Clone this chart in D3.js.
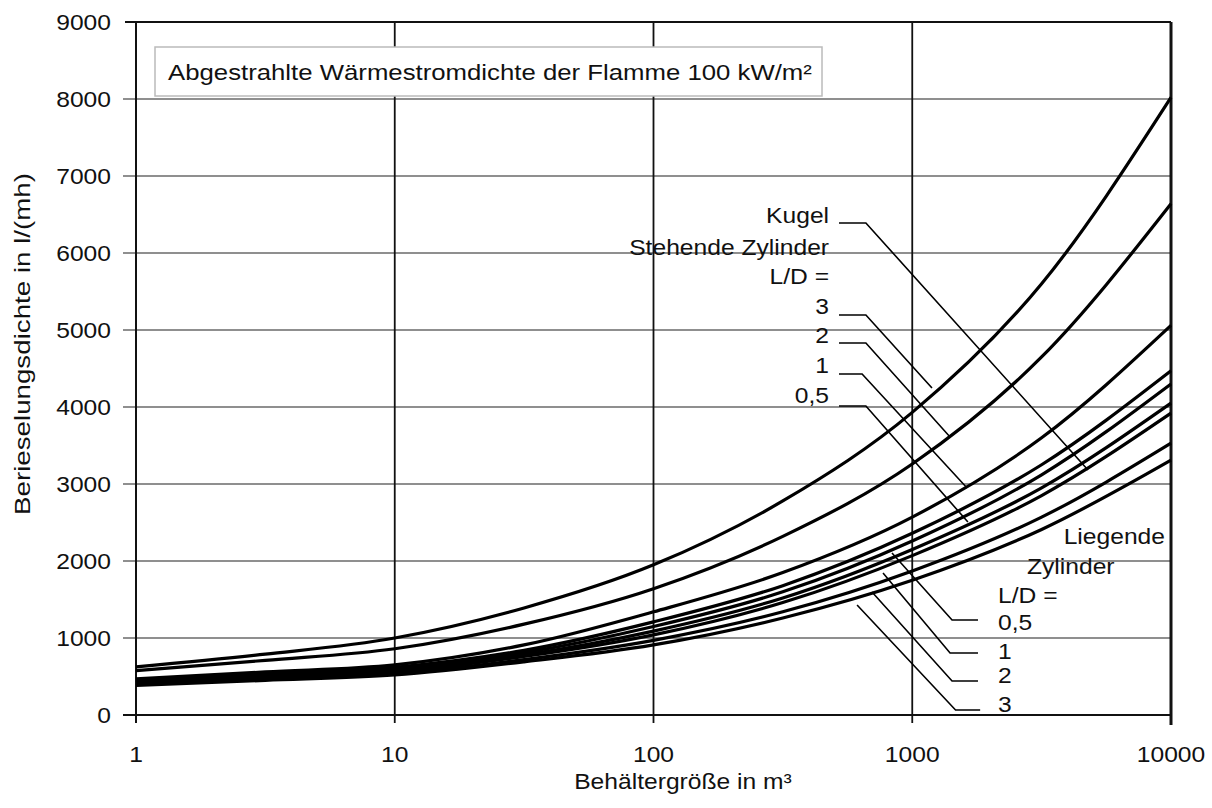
<!DOCTYPE html>
<html>
<head>
<meta charset="utf-8">
<script src="https://cdn.jsdelivr.net/npm/d3@7"></script>
<style>
  body { margin: 0; background: white; }
  svg text { font-family: "Liberation Sans", Arial, sans-serif; fill: #111; }
</style>
</head>
<body>
<svg id="chart" width="1212" height="808"></svg>
<script>
const width = 1212,
      height = 808;

const margin = {top: 22, right: 41, bottom: 93, left: 136};

const text_size = 22;
const text_stretch = 1.12;

// Behältergröße in m³ where the curves were read
const volumes = [1, 3.16, 10, 31.6, 100, 316, 1000, 3162, 10000];

// Berieselungsdichte in l/(mh), curves from top to bottom at 10000 m³
const curve_a = [625, 790, 1000, 1390, 1950, 2780, 3930, 5600, 8020];
const curve_b = [575, 710, 860, 1180, 1640, 2320, 3260, 4650, 6640];
const curve_c = [470, 560, 650, 910, 1340, 1850, 2570, 3600, 5060];
const curve_d = [455, 540, 620, 840, 1210, 1680, 2360, 3250, 4470];
const curve_e = [445, 520, 600, 810, 1150, 1600, 2260, 3120, 4300];
const curve_f = [430, 505, 580, 780, 1090, 1520, 2150, 2950, 4050];
const curve_g = [420, 495, 565, 760, 1040, 1460, 2070, 2850, 3920];
const curve_h = [400, 470, 540, 720, 970, 1340, 1870, 2570, 3530];
const curve_i = [385, 450, 520, 690, 910, 1260, 1750, 2410, 3310];

const curves = [curve_a, curve_b, curve_c, curve_d, curve_e, curve_f, curve_g, curve_h, curve_i];

const x_ticks = [1, 10, 100, 1000, 10000];
const y_ticks = [0, 1000, 2000, 3000, 4000, 5000, 6000, 7000, 8000, 9000];

const title_text = 'Abgestrahlte Wärmestromdichte der Flamme 100 kW/m²';
const x_title = 'Behältergröße in m³';
const y_title = 'Berieselungsdichte in l/(mh)';

// labels: text, anchor volume, anchor density, text-anchor
const upper_labels = [
  ['Kugel', 477, 6390, 'end'],
  ['Stehende Zylinder', 477, 5970, 'end'],
  ['L/D =', 477, 5600, 'end'],
  ['3', 477, 5210, 'end'],
  ['2', 477, 4830, 'end'],
  ['1', 477, 4440, 'end'],
  ['0,5', 477, 4050, 'end']
];
const lower_labels = [
  ['Liegende', 9480, 2220, 'end'],
  ['Zylinder', 2775, 1830, 'start'],
  ['L/D =', 2145, 1450, 'start'],
  ['0,5', 2145, 1100, 'start'],
  ['1', 2145, 730, 'start'],
  ['2', 2145, 420, 'start'],
  ['3', 2145, 40, 'start']
];

// leader lines as [volume, density] points
const leader_lines = [
  [[521, 6390], [662, 6390], [4777, 3182]],
  [[521, 5195], [662, 5195], [1192, 4247]],
  [[521, 4831], [662, 4831], [1400, 3610]],
  [[521, 4429], [640, 4429], [1629, 2948]],
  [[521, 4013], [662, 4013], [1641, 2506]],
  [[835, 2104], [1425, 1234], [1795, 1234]],
  [[771, 1844], [1400, 805], [1795, 805]],
  [[699, 1597], [1425, 442], [1795, 442]],
  [[612, 1429], [1470, 65], [1830, 65]]
];

const svg = d3.select('#chart');

const x = d3.scaleLog()
  .domain([1, 10000])
  .range([margin.left, width - margin.right]);

const y = d3.scaleLinear()
  .domain([0, 9000])
  .range([height - margin.bottom, margin.top]);

// stretched text, the source font runs a bit wider than Arial
function addText(g, str, px, py, anchor, size = text_size){
  return g.append('text')
    .attr('transform', `translate(${px},${py}) scale(${text_stretch},1)`)
    .attr('text-anchor', anchor)
    .style('font-size', size + 'px')
    .text(str);
}

// horizontal grid lines
svg.append('g')
  .selectAll('line')
  .data(y_ticks.slice(1, -1))
  .join('line')
  .attr('x1', x(1) - 13)
  .attr('x2', x(10000))
  .attr('y1', d => y(d))
  .attr('y2', d => y(d))
  .attr('stroke', '#6a6a6a')
  .attr('stroke-width', 1.4);

// vertical grid lines at each decade
svg.append('g')
  .selectAll('line')
  .data(x_ticks.slice(1, -1))
  .join('line')
  .attr('x1', d => x(d))
  .attr('x2', d => x(d))
  .attr('y1', y(9000))
  .attr('y2', y(0) + 8)
  .attr('stroke', '#111')
  .attr('stroke-width', 1.8);

// frame
const frame = svg.append('g').attr('stroke', '#111').attr('fill', 'none');
frame.append('line')
  .attr('x1', x(1) - 11).attr('x2', x(10000))
  .attr('y1', y(9000)).attr('y2', y(9000))
  .attr('stroke-width', 2);
frame.append('line')
  .attr('x1', x(1) - 13).attr('x2', x(10000))
  .attr('y1', y(0)).attr('y2', y(0))
  .attr('stroke-width', 2);
frame.append('line')
  .attr('x1', x(1)).attr('x2', x(1))
  .attr('y1', y(9000)).attr('y2', y(0) + 8)
  .attr('stroke-width', 2);
frame.append('line')
  .attr('x1', x(10000)).attr('x2', x(10000))
  .attr('y1', y(9000)).attr('y2', y(0) + 10)
  .attr('stroke-width', 3);

// tick labels
const labels = svg.append('g');
y_ticks.forEach(d => addText(labels, d, x(1) - 25, y(d) + 8, 'end'));
x_ticks.forEach(d => addText(labels, d, x(d), y(0) + 47, 'middle'));

addText(labels, x_title, 683, height - 19, 'middle');

labels.append('text')
  .attr('transform', `translate(30,344) rotate(-90)`)
  .attr('text-anchor', 'middle')
  .attr('textLength', 342)
  .attr('lengthAdjust', 'spacingAndGlyphs')
  .style('font-size', text_size + 'px')
  .text(y_title);

// the curves
const line = d3.line()
  .x(d => x(d[0]))
  .y(d => y(d[1]))
  .curve(d3.curveMonotoneX);

svg.append('g')
  .selectAll('path')
  .data(curves)
  .join('path')
  .attr('d', vals => line(vals.map((v, i) => [volumes[i], v])))
  .attr('fill', 'none')
  .attr('stroke', '#000')
  .attr('stroke-width', 3.2);

// leader lines
svg.append('g')
  .selectAll('polyline')
  .data(leader_lines)
  .join('polyline')
  .attr('points', pts => pts.map(p => [x(p[0]), y(p[1])].join(',')).join(' '))
  .attr('fill', 'none')
  .attr('stroke', '#000')
  .attr('stroke-width', 1.6);

const notes = svg.append('g');
upper_labels.concat(lower_labels)
  .forEach(d => addText(notes, d[0], x(d[1]), y(d[2]), d[3]));

// title box
const title = svg.append('g');
title.append('rect')
  .attr('x', 155)
  .attr('y', 47)
  .attr('width', 667)
  .attr('height', 49)
  .attr('fill', 'white')
  .attr('stroke', '#bbb')
  .attr('stroke-width', 1.5);
addText(title, title_text, 168, 80, 'start', 23);
</script>
</body>
</html>
